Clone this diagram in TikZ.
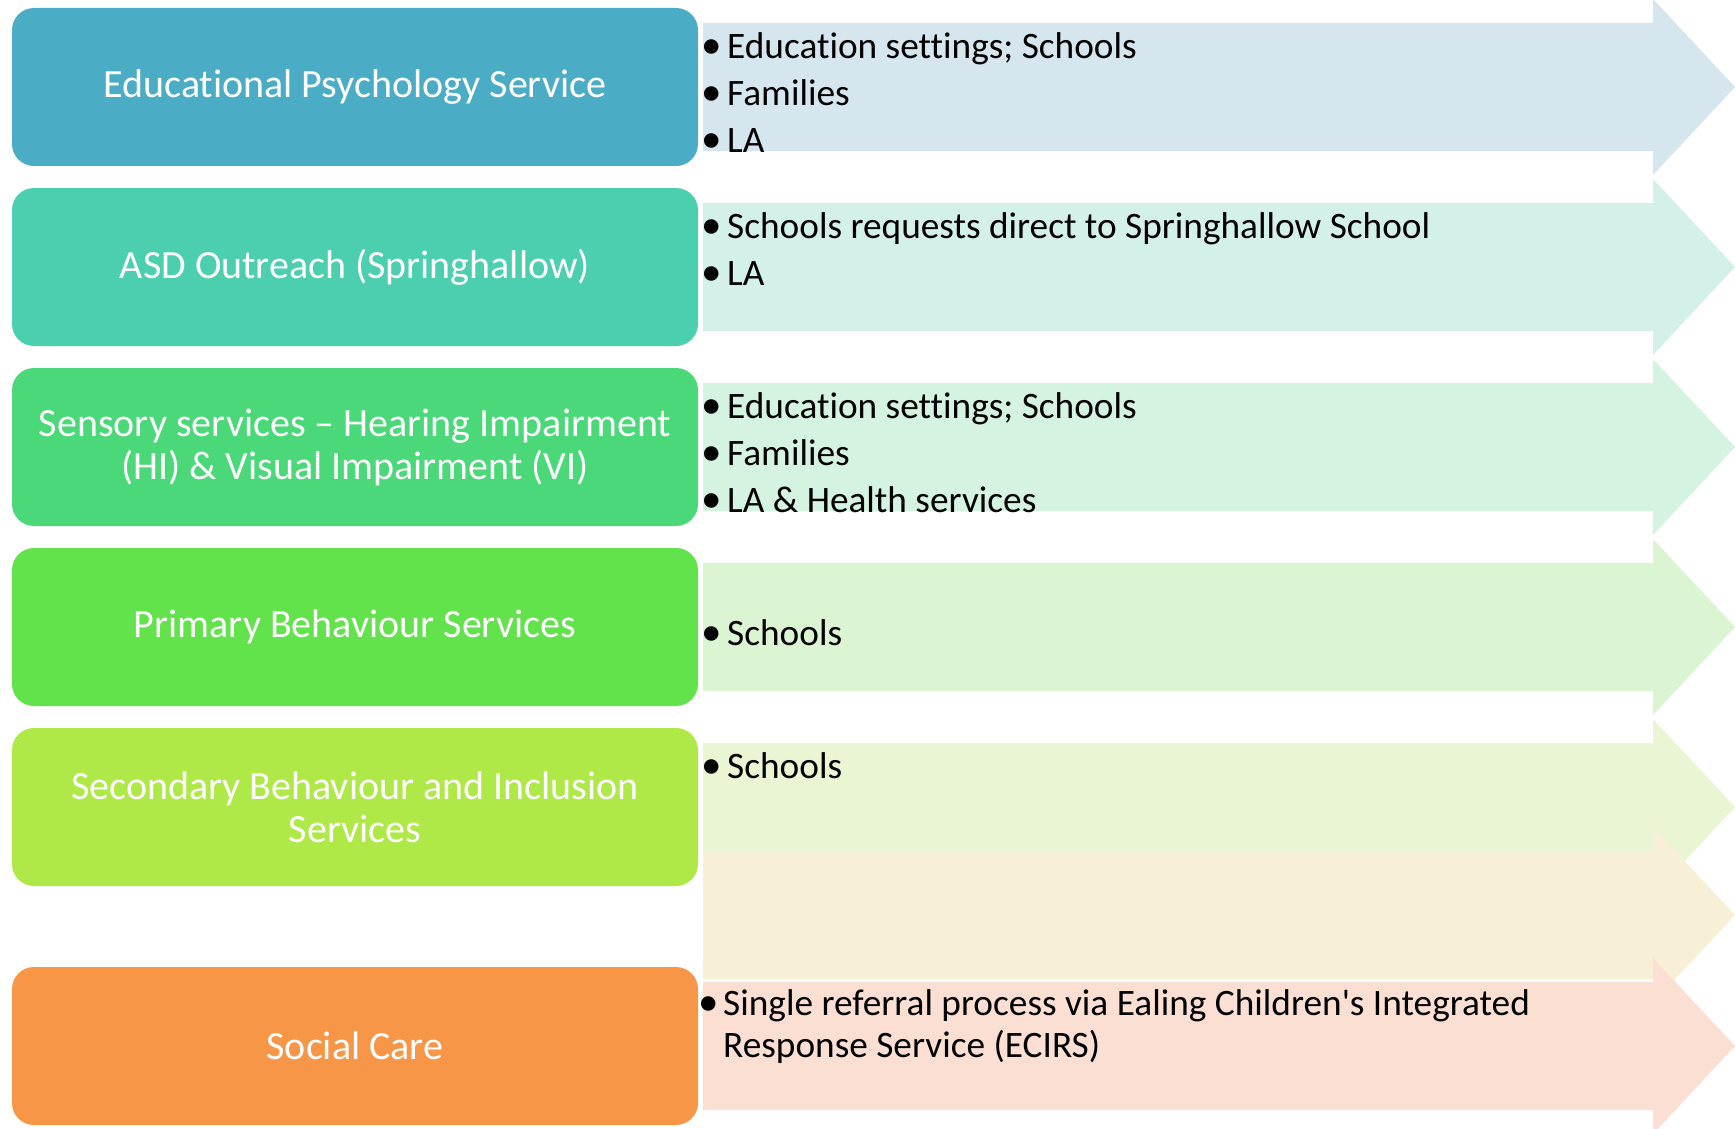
\documentclass[tikz,border=0pt]{standalone}
\usepackage{fontspec}
\setmainfont{Carlito}
\newfontfamily\carl[RawFeature={-liga;-clig}]{Carlito}
\definecolor{cA}{HTML}{4BACC6}
\definecolor{cB}{HTML}{4BCFAF}
\definecolor{cC}{HTML}{4AD878}
\definecolor{cD}{HTML}{62E24B}
\definecolor{cE}{HTML}{AFE948}
\definecolor{cF}{HTML}{F79646}
\definecolor{aA}{HTML}{D5E6EE}
\definecolor{aB}{HTML}{D4F1E9}
\definecolor{aC}{HTML}{D4F3E0}
\definecolor{aD}{HTML}{DBF5D3}
\definecolor{aE}{HTML}{EAF6D3}
\definecolor{aF}{HTML}{F8F0D6}
\definecolor{aG}{HTML}{FCDFD3}
\newcommand\bandarrow[2]{\fill[#2] (703,#1-64) -- (1653,#1-64) -- (1653,#1-88) -- (1735,#1) -- (1653,#1+88) -- (1653,#1+64) -- (703,#1+64) -- cycle;}
\begin{document}
\begin{tikzpicture}[x=1pt,y=-1pt,
  svc/.style={rectangle, rounded corners=22pt, minimum width=686pt, minimum height=158pt,
    inner sep=0pt, text=white, font=\carl\fontsize{40}{43}\selectfont, align=center},
  item/.style={anchor=base west, inner sep=0pt, text=black, font=\carl\fontsize{37.3}{42}\selectfont},
  bul/.style={item, font=\carl\fontsize{41}{42}\selectfont}]
\useasboundingbox[fill=white] (0,0) rectangle (1735,1129);
% arrows
\bandarrow{87}{aA}
\bandarrow{267}{aB}
\bandarrow{447}{aC}
\bandarrow{627}{aD}
\bandarrow{807}{aE}
\bandarrow{915}{aF}
\bandarrow{1046}{aG}
% service boxes
\node[svc, fill=cA] (eps) at (355,87) {Educational Psychology Service};
\node[svc, fill=cB] (asd) at (355,267) {ASD Outreach (Springhallow)};
\node[svc, fill=cC] (sen) at (355,447) {Sensory services – Hearing Impairment\\(HI) \& Visual Impairment (VI)};
\node[svc, fill=cD] (pbs) at (355,627) {Primary Behaviour Services};
\node[svc, fill=cE] (sbi) at (355,807) {Secondary Behaviour and Inclusion\\Services};
\node[svc, fill=cF] (soc) at (355,1046) {Social Care};
% items
\node[bul] (b1a) at (701,59) {•};  \node[item] (t1a) at (727,59) {Education settings; Schools};
\node[bul] (b1b) at (701,106) {•}; \node[item] (t1b) at (727,106) {Families};
\node[bul] (b1c) at (701,153) {•}; \node[item] (t1c) at (727,153) {LA};
\node[bul] (b2a) at (701,238) {•}; \node[item] (t2a) at (727,238) {Schools requests direct to Springhallow School};
\node[bul] (b2b) at (701,285) {•}; \node[item] (t2b) at (727,285) {LA};
\node[bul] (b3a) at (701,418) {•}; \node[item] (t3a) at (727,418) {Education settings; Schools};
\node[bul] (b3b) at (701,465) {•}; \node[item] (t3b) at (727,465) {Families};
\node[bul] (b3c) at (701,512) {•}; \node[item] (t3c) at (727,512) {LA \& Health services};
\node[bul] (b4a) at (701,645) {•}; \node[item] (t4a) at (727,645) {Schools};
\node[bul] (b5a) at (701,778) {•}; \node[item] (t5a) at (727,778) {Schools};
\node[bul] (b7a) at (698,1015) {•}; \node[item] (t7a) at (723,1015) {Single referral process via Ealing Children's Integrated};
\node[item] (t7b) at (723,1057) {Response Service (ECIRS)};
\end{tikzpicture}
\end{document}
